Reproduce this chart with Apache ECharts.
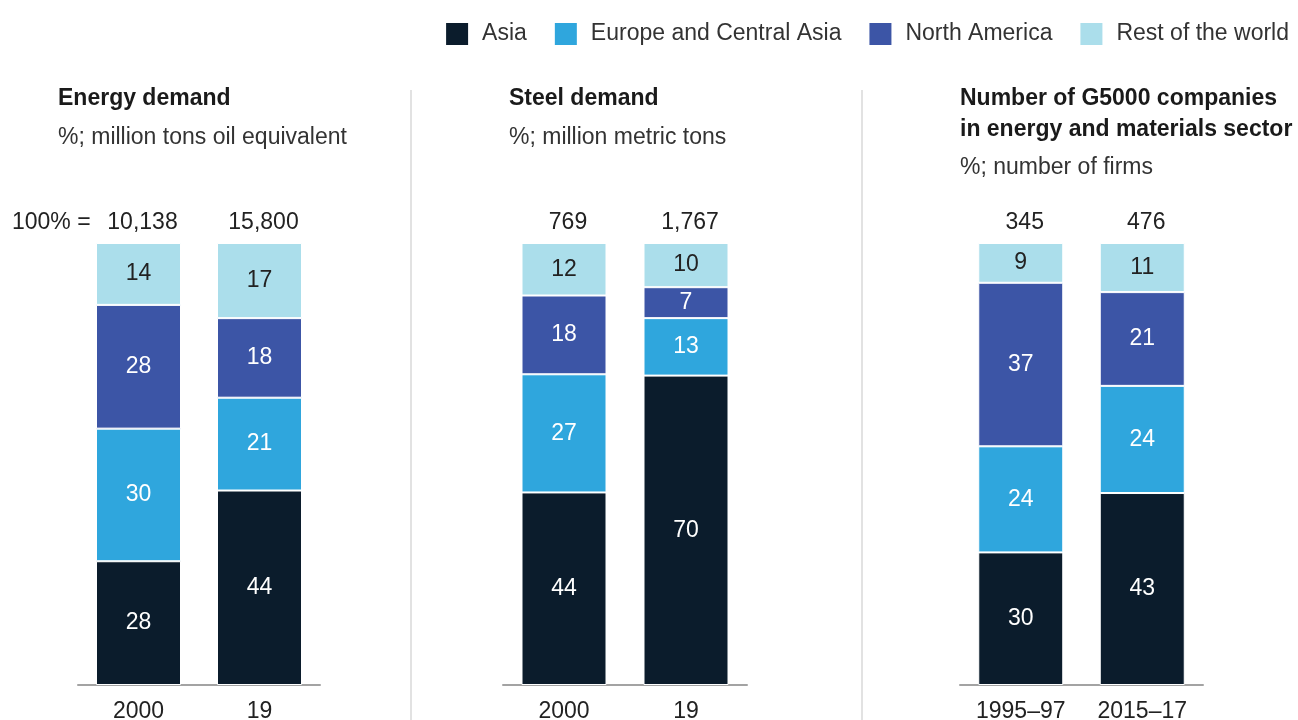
<!DOCTYPE html>
<html>
<head>
<meta charset="utf-8">
<script src="https://cdn.jsdelivr.net/npm/echarts@6/dist/echarts.min.js"></script>
<style>
  html, body { margin: 0; padding: 0; background: #fff; }
  #chart { width: 1298px; height: 720px; }
</style>
</head>
<body>
<div id="chart"></div>
<script>
// data
var regions = ['Asia', 'Europe and Central Asia', 'North America', 'Rest of the world'];
var colors = ['#0b1c2c', '#2fa6dd', '#3c55a6', '#abdeeb'];

var energyYears = ['2000', '19'];
var energyTotals = ['10,138', '15,800'];
var energyAsia = [28, 44];
var energyEurope = [30, 21];
var energyNA = [28, 18];
var energyRest = [14, 17];

var steelYears = ['2000', '19'];
var steelTotals = ['769', '1,767'];
var steelAsia = [44, 70];
var steelEurope = [27, 13];
var steelNA = [18, 7];
var steelRest = [12, 10];

var firmYears = ['1995–97', '2015–17'];
var firmTotals = ['345', '476'];
var firmAsia = [30, 43];
var firmEurope = [24, 24];
var firmNA = [37, 21];
var firmRest = [9, 11];

var panels = [
  { cats: energyYears, totals: energyTotals, vals: [energyAsia, energyEurope, energyNA, energyRest] },
  { cats: steelYears, totals: steelTotals, vals: [steelAsia, steelEurope, steelNA, steelRest] },
  { cats: firmYears, totals: firmTotals, vals: [firmAsia, firmEurope, firmNA, firmRest] }
];

var FONT = '"Liberation Sans", Arial, sans-serif';
var FS = 23;
var myChart = echarts.init(document.getElementById('chart'));

var grids = [
  { left: 78, width: 242, top: 243, height: 442, outerBoundsMode: 'none' },
  { left: 503, width: 244, top: 243, height: 442, outerBoundsMode: 'none' },
  { left: 960, width: 243, top: 243, height: 442, outerBoundsMode: 'none' }
];

var xAxes = [], yAxes = [], series = [];
panels.forEach(function (p, i) {
  xAxes.push({
    type: 'category', gridIndex: i, data: p.cats, position: 'bottom',
    axisLine: { lineStyle: { color: '#a3a3a3', width: 2 } },
    axisTick: { show: false },
    axisLabel: { fontSize: FS, color: '#222', fontFamily: FONT, margin: 15 }
  });
  xAxes.push({
    type: 'category', gridIndex: i, data: p.totals, position: 'top',
    axisLine: { show: false }, axisTick: { show: false },
    axisLabel: { fontSize: FS, color: '#222', fontFamily: FONT, margin: 9, padding: [0, 0, 0, 8] }
  });
  yAxes.push({ type: 'value', gridIndex: i, min: 0, max: 100, show: false, splitLine: { show: false } });

  // bar sums are not always exactly 100, so scale each bar to full height
  var sums = p.cats.map(function (c, k) {
    return p.vals.reduce(function (s, arr) { return s + arr[k]; }, 0);
  });
  p.vals.forEach(function (arr, r) {
    series.push({
      name: regions[r], type: 'bar', stack: 'panel' + i,
      xAxisIndex: i * 2, yAxisIndex: i,
      barWidth: 85,
      itemStyle: { color: colors[r], borderColor: '#fff', borderWidth: 1 },
      label: {
        show: true, position: 'inside', fontSize: FS, fontFamily: FONT,
        color: r === 3 ? '#222' : '#fff',
        formatter: function (q) { return q.data.raw; }
      },
      data: arr.map(function (v, k) { return { value: v / sums[k] * 100, raw: v }; })
    });
  });
});

var titleStyle = { fontSize: FS, fontWeight: 'bold', color: '#1a1a1a', fontFamily: FONT, lineHeight: 31 };
var subStyle = { fontSize: FS, fontWeight: 'normal', color: '#333', fontFamily: FONT };

var option = {
  backgroundColor: '#fff',
  animation: false,
  legend: {
    data: regions, right: 4, top: 16, icon: 'rect',
    itemWidth: 24, itemHeight: 24, itemGap: 26,
    selectedMode: false,
    textStyle: { fontSize: FS, color: '#333', fontFamily: FONT, padding: [0, 0, 0, 8] }
  },
  title: [
    { text: 'Energy demand', left: 58, top: 83, padding: 0, textStyle: titleStyle },
    { text: '%; million tons oil equivalent', left: 58, top: 126, padding: 0, textStyle: subStyle },
    { text: 'Steel demand', left: 509, top: 83, padding: 0, textStyle: titleStyle },
    { text: '%; million metric tons', left: 509, top: 126, padding: 0, textStyle: subStyle },
    { text: 'Number of G5000 companies\nin energy and materials sector', left: 960, top: 83, padding: 0, textStyle: titleStyle },
    { text: '%; number of firms', left: 960, top: 156, padding: 0, textStyle: subStyle }
  ],
  graphic: [
    { type: 'line', shape: { x1: 411, y1: 90, x2: 411, y2: 720 }, style: { stroke: '#d9d9d9', lineWidth: 1.5 } },
    { type: 'line', shape: { x1: 862, y1: 90, x2: 862, y2: 720 }, style: { stroke: '#d9d9d9', lineWidth: 1.5 } },
    { type: 'text', left: 12, top: 211, style: { text: '100% =', fontSize: FS, fill: '#222', fontFamily: FONT } }
  ],
  grid: grids,
  xAxis: xAxes,
  yAxis: yAxes,
  series: series
};

myChart.setOption(option);
</script>
</body>
</html>
